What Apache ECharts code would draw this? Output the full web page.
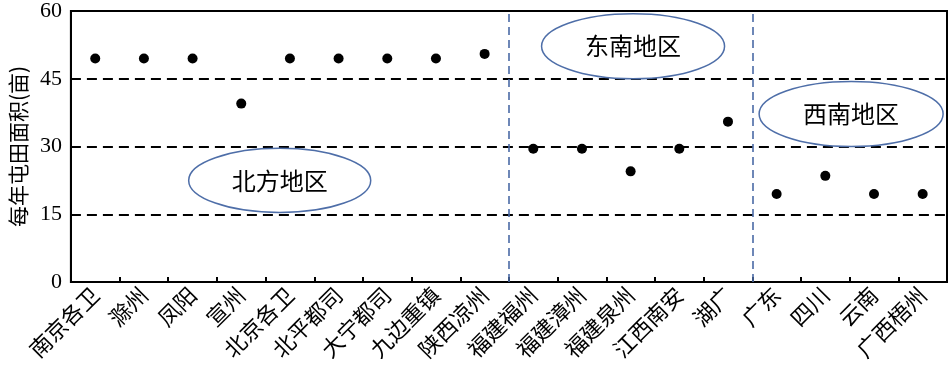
<!DOCTYPE html>
<html>
<head>
<meta charset="utf-8">
<script src="https://cdn.jsdelivr.net/npm/echarts@6/dist/echarts.min.js"></script>
<style>
html,body{margin:0;padding:0;background:#fff;}
#main{width:950px;height:373px;}
</style>
</head>
<body>
<div id="main"></div>
<script>
const categories = ['南京各卫','滁州','凤阳','宣州','北京各卫','北平都司','大宁都司','九边重镇','陕西凉州','福建福州','福建漳州','福建泉州','江西南安','湖广','广东','四川','云南','广西梧州'];
const values = [49.5,49.5,49.5,39.5,49.5,49.5,49.5,49.5,50.5,29.5,29.5,24.5,29.5,35.5,19.5,23.5,19.5,19.5];
const yTicks = [0,15,30,45,60];
const regionDividers = [9,14];
const regionLabels = ['北方地区','东南地区','西南地区'];
// annotation ellipses in data units: [centerX (category slots), centerY, halfWidth, halfHeight]
const regionEllipses = [[4.29,22.5,1.87,7.1],[11.55,52.2,1.88,7.2],[16.03,37.2,1.89,7.2]];

const serif = '"Liberation Serif","Noto Sans CJK SC",serif';
const cjk = '"Noto Sans CJK SC",sans-serif';
const chart = echarts.init(document.getElementById('main'));
chart.setOption({
  animation:false,
  grid:{left:62,right:3,top:8,bottom:91,show:true,borderColor:'#000',borderWidth:2,backgroundColor:'transparent'},
  xAxis:[{
    type:'category',data:categories,boundaryGap:true,
    axisLine:{show:true,lineStyle:{color:'#000',width:2}},
    axisTick:{show:true,inside:true,length:5,lineStyle:{color:'#000',width:2}},
    axisLabel:{interval:0,rotate:45,fontSize:22,fontFamily:cjk,color:'#000',margin:9},
    splitLine:{show:false}
  },{
    type:'value',min:0,max:18,show:false,position:'bottom'
  }],
  yAxis:{
    type:'value',min:yTicks[0],max:yTicks[yTicks.length-1],interval:15,
    name:'每年屯田面积(亩)',nameLocation:'middle',nameRotate:90,nameGap:40,
    nameTextStyle:{fontSize:21,fontFamily:cjk,color:'#000'},
    axisLine:{show:true,lineStyle:{color:'#000',width:2}},
    axisTick:{show:false},
    axisLabel:{fontSize:22,fontFamily:serif,color:'#000',margin:9},
    splitLine:{show:true,lineStyle:{color:'#000',width:2,type:[10,6]}}
  },
  series:[{
    type:'custom',xAxisIndex:1,clip:false,z:3,
    data:regionEllipses,
    encode:{x:0,y:1},
    renderItem:function(params,api){
      const c = api.coord([api.value(0),api.value(1)]);
      const s = api.size([api.value(2),api.value(3)]);
      return {type:'group',children:[
        {type:'ellipse',shape:{cx:c[0],cy:c[1],rx:s[0],ry:s[1]},style:{fill:'#fff',stroke:'#4e6ea8',lineWidth:1.5}},
        {type:'text',style:{text:regionLabels[params.dataIndex],x:c[0],y:c[1],align:'center',verticalAlign:'middle',fontSize:24,fontFamily:cjk,fill:'#000'}}
      ]};
    },
    markLine:{
      silent:true,symbol:['none','none'],label:{show:false},
      lineStyle:{color:'#4a6aa6',width:1.6,type:[8,5]},
      data:regionDividers.map(v=>({xAxis:v}))
    }
  },{
    type:'scatter',xAxisIndex:0,data:values,symbol:'circle',symbolSize:10,z:5,
    itemStyle:{color:'#000',opacity:1}
  }]
});
</script>
</body>
</html>
